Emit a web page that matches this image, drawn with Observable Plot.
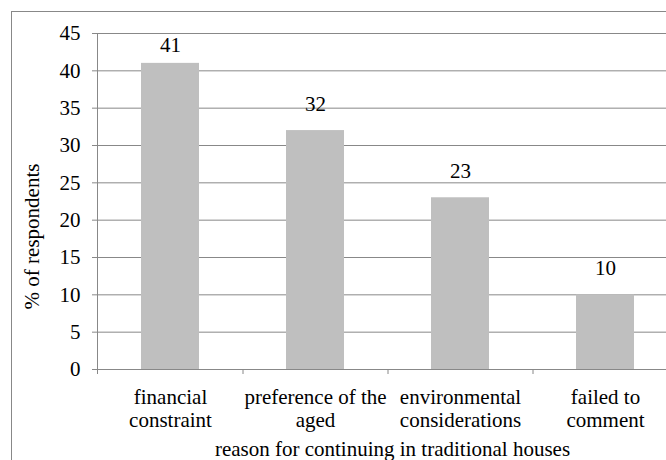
<!DOCTYPE html>
<html>
<head>
<meta charset="utf-8">
<script src="https://cdn.jsdelivr.net/npm/d3@7"></script>
<script src="https://cdn.jsdelivr.net/npm/@observablehq/plot@0.6"></script>
<style>
html, body { margin: 0; padding: 0; background: #fff; overflow: hidden; }
</style>
</head>
<body>
<div id="chart"></div>
<script>
// ---- data ----
const categories = ["financial constraint", "preference of the aged", "environmental considerations", "failed to comment"];
const tickLabels = ["financial\nconstraint", "preference of the\naged", "environmental\nconsiderations", "failed to\ncomment"];
const values = [41, 32, 23, 10];
const yTicks = [0, 5, 10, 15, 20, 25, 30, 35, 40, 45];
const xTitle = "reason for continuing in traditional houses";
const yTitle = "% of respondents";

const data = categories.map((c, i) => ({category: c, label: tickLabels[i], value: values[i]}));

// ---- layout ----
const W = 666, H = 460;
const mL = 97, mT = 33, mB = 91, mR = -11;
const gray = "#888888";
const barFill = "#bfbfbf";
const font = "Liberation Serif";
const fs = 21;
const yMax = 45;
const step = (W - mR - mL) / categories.length;
const pxPerUnit = (H - mB - mT) / yMax;
const labelGap = 20;
const fits = d => (yMax - d.value) * pxPerUnit >= labelGap + fs * 0.72;
const txt = {fontFamily: font, fontSize: fs, fill: "#000"};

const chart = Plot.plot({
  width: W,
  height: H,
  marginLeft: mL,
  marginRight: mR,
  marginTop: mT,
  marginBottom: mB,
  style: {fontSize: fs + "px", fontFamily: font, background: "#fff", overflow: "hidden", color: "#000"},
  x: {domain: categories, paddingInner: 0.6, paddingOuter: 0.3, label: null},
  y: {domain: [0, yMax], label: null},
  marks: [
    // outer chart border
    Plot.frame({stroke: gray, insetLeft: -86, insetTop: -22, insetRight: -40, insetBottom: -140}),
    Plot.gridY(yTicks, {stroke: gray, strokeOpacity: 1}),
    Plot.barY(data, {x: "category", y: "value", fill: barFill}),
    Plot.ruleY([0], {stroke: gray}),
    Plot.frame({anchor: "left", stroke: gray, insetBottom: -4}),
    Plot.axisY(yTicks, {tickSize: 5, tickPadding: 12, label: null, stroke: gray, ...txt}),
    // category boundary ticks
    Plot.axisX(categories.slice(0, -1), {tickSize: 5, dx: step / 2, tickFormat: () => "", label: null, stroke: gray}),
    // category labels
    Plot.text(data, {x: "category", text: "label", frameAnchor: "bottom", lineAnchor: "top", dy: 17, lineHeight: 1.14, ...txt}),
    // value labels
    Plot.text(data.filter(fits), {x: "category", y: "value", text: d => String(d.value), dy: -labelGap, lineAnchor: "bottom", ...txt}),
    Plot.text(data.filter(d => !fits(d)), {x: "category", text: d => String(d.value), frameAnchor: "top", lineAnchor: "top", dy: 4, ...txt}),
    // axis titles
    Plot.text([xTitle], {text: d => d, frameAnchor: "bottom", lineAnchor: "bottom", dy: 86, dx: 5, ...txt}),
    Plot.text([yTitle], {text: d => d, frameAnchor: "left", rotate: -90, dx: -65, dy: 35, lineAnchor: "middle", textAnchor: "middle", ...txt})
  ]
});
document.getElementById("chart").appendChild(chart);
</script>
</body>
</html>
